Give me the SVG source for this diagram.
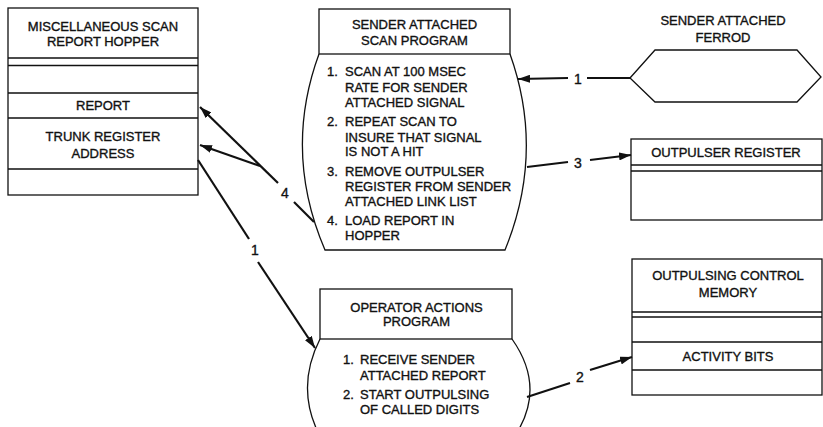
<svg xmlns="http://www.w3.org/2000/svg" width="823" height="427" viewBox="0 0 823 427">
<defs>
<style>
.b{fill:none;stroke:#111;stroke-width:1.3}
.c{fill:none;stroke:#111;stroke-width:2.2}
text{font-family:"Liberation Sans",Arial,sans-serif;font-size:13px;fill:#111;stroke:#111;stroke-width:0.35}
.m{text-anchor:middle}
.n{font-size:14px}
</style>
<marker id="ah" viewBox="0 0 12 8" refX="12" refY="4" markerWidth="12" markerHeight="8" markerUnits="userSpaceOnUse" orient="auto">
<path d="M0,0 L12,4 L0,8 z" fill="#111"/>
</marker>
</defs>
<rect width="823" height="427" fill="#fff"/>

<g id="hopper">
<rect class="b" x="8" y="8" width="190" height="187"/>
<path class="b" d="M8,58H198M8,65.5H198M8,93H198M8,118H198M8,169H198"/>
<text class="m" x="103" y="30.5">MISCELLANEOUS SCAN</text>
<text class="m" x="103" y="46">REPORT HOPPER</text>
<text class="m" x="103" y="109.5">REPORT</text>
<text class="m" x="103" y="141">TRUNK REGISTER</text>
<text class="m" x="103" y="158">ADDRESS</text>
</g>

<g id="scan-program">
<rect class="b" x="319" y="9" width="191" height="45"/>
<path class="b" d="M319,54 Q283,152 325,250 H505 Q545,152 510,54"/>
<text class="m" x="414.5" y="28.5">SENDER ATTACHED</text>
<text class="m" x="414.5" y="44.5">SCAN PROGRAM</text>
<text x="327" y="76">1.</text><text x="345" y="76">SCAN AT 100 MSEC</text>
<text x="345" y="92">RATE FOR SENDER</text>
<text x="345" y="107">ATTACHED SIGNAL</text>
<text x="327" y="126">2.</text><text x="345" y="126">REPEAT SCAN TO</text>
<text x="345" y="142">INSURE THAT SIGNAL</text>
<text x="345" y="156">IS NOT A HIT</text>
<text x="327" y="176">3.</text><text x="345" y="176">REMOVE OUTPULSER</text>
<text x="345" y="191">REGISTER FROM SENDER</text>
<text x="345" y="206">ATTACHED LINK LIST</text>
<text x="327" y="225">4.</text><text x="345" y="225">LOAD REPORT IN</text>
<text x="345" y="240">HOPPER</text>
</g>

<g id="ferrod">
<path class="b" d="M630,78 L655,50 H797 L821,77 L797,102 H655 Z"/>
<text class="m" x="723" y="24.5">SENDER ATTACHED</text>
<text class="m" x="723" y="41.5">FERROD</text>
</g>

<g id="outpulser-register">
<rect class="b" x="631" y="139" width="191" height="81"/>
<path class="b" d="M631,165H822M631,171H822"/>
<text class="m" x="726" y="157">OUTPULSER REGISTER</text>
</g>

<g id="operator-program">
<rect class="b" x="320" y="289" width="192" height="50"/>
<path class="b" d="M320,339 Q294,390 322,440 M512,339 Q548,390 512,440"/>
<text class="m" x="416.5" y="311.5">OPERATOR ACTIONS</text>
<text class="m" x="416.5" y="326">PROGRAM</text>
<text x="343" y="364">1.</text><text x="360" y="364">RECEIVE SENDER</text>
<text x="360" y="379.5">ATTACHED REPORT</text>
<text x="343" y="398.5">2.</text><text x="360" y="398.5">START OUTPULSING</text>
<text x="360" y="414">OF CALLED DIGITS</text>
</g>

<g id="control-memory">
<rect class="b" x="632" y="259" width="190" height="136"/>
<path class="b" d="M632,312H822M632,317H822M632,342H822M632,370H822"/>
<text class="m" x="728" y="279.5">OUTPULSING CONTROL</text>
<text class="m" x="728" y="297">MEMORY</text>
<text class="m" x="728" y="360.5">ACTIVITY BITS</text>
</g>

<g id="connectors">
<line class="c" x1="630" y1="78" x2="587" y2="78"/>
<line class="c" x1="568" y1="78" x2="518" y2="79" marker-end="url(#ah)"/>
<text class="m n" x="578" y="84">1</text>

<line class="c" x1="527" y1="167" x2="568" y2="162"/>
<line class="c" x1="590" y1="160" x2="631" y2="155" marker-end="url(#ah)"/>
<text class="m n" x="578" y="167.5">3</text>

<line class="c" x1="527" y1="397" x2="570" y2="383"/>
<line class="c" x1="590" y1="370" x2="632" y2="357" marker-end="url(#ah)"/>
<text class="m n" x="580" y="382">2</text>

<line class="c" x1="314" y1="222" x2="294" y2="202"/>
<line class="c" x1="278" y1="183" x2="200" y2="107" marker-end="url(#ah)"/>
<line class="c" x1="260" y1="166" x2="200" y2="145" marker-end="url(#ah)"/>
<text class="m n" x="285" y="198">4</text>

<line class="c" x1="198" y1="160" x2="249" y2="239"/>
<line class="c" x1="258" y1="262" x2="315" y2="348" marker-end="url(#ah)"/>
<text class="m n" x="255" y="255">1</text>
</g>
</svg>
